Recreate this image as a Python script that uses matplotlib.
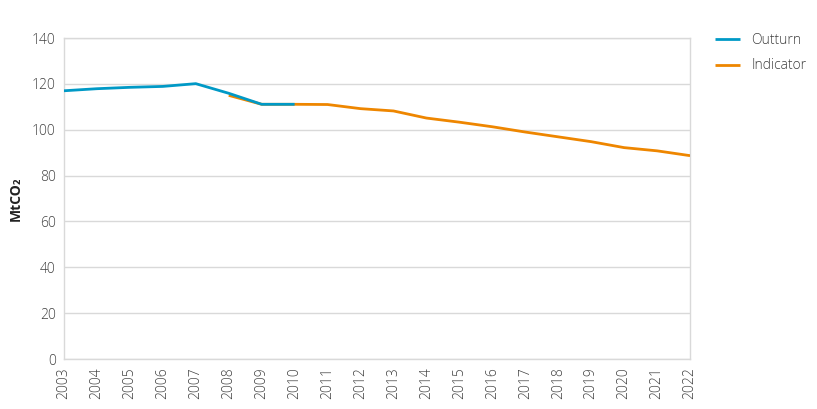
import matplotlib
matplotlib.use('Agg')
import matplotlib.pyplot as plt

# data
outturn_years = [2003, 2004, 2005, 2006, 2007, 2008, 2009, 2010]
outturn = [117.0, 117.9, 118.5, 118.9, 120.1, 115.9, 111.1, 111.1]

indicator_years = [2008, 2009, 2010, 2011, 2012, 2013, 2014, 2015,
                   2016, 2017, 2018, 2019, 2020, 2021, 2022]
indicator = [115.0, 111.1, 111.1, 111.0, 109.2, 108.2, 105.1, 103.3,
             101.3, 99.0, 96.9, 94.8, 92.2, 90.8, 88.7]

years = list(range(2003, 2023))

plt.rcParams['font.family'] = ['Open Sans', 'DejaVu Sans']
text_col = '#404040'
grid_col = '#d9d9d9'

fig = plt.figure(figsize=(8.17, 4.09), dpi=100)
ax = fig.add_axes([0.0783, 0.1222, 0.7663, 0.7848])

l_ind, = ax.plot(indicator_years, indicator, color='#ee8600', lw=2.0,
                 solid_capstyle='butt', zorder=3)
l_out, = ax.plot(outturn_years, outturn, color='#0099c6', lw=2.0,
                 solid_capstyle='butt', zorder=4)

ax.set_xlim(2003, 2022)
ax.set_ylim(0, 140)
ax.set_yticks(range(0, 141, 20))
ax.set_xticks(years)
ax.set_xticklabels([str(y) for y in years], rotation=90)
ax.tick_params(length=0, labelsize=10, colors=text_col, pad=6)
for lab in ax.get_xticklabels() + ax.get_yticklabels():
    lab.set_fontweight('light')
ax.grid(axis='y', color=grid_col, lw=1)
ax.set_axisbelow(True)
for s in ax.spines.values():
    s.set_color(grid_col)
    s.set_linewidth(1)

ax.set_ylabel('MtCO₂', fontsize=10, fontweight='bold', color='#222222')
ax.yaxis.set_label_coords(-0.066, 0.5)

leg = fig.legend([l_out, l_ind], ['Outturn', 'Indicator'],
                 loc='upper left', bbox_to_anchor=(0.86, 0.95),
                 frameon=False, fontsize=10, handlelength=1.8,
                 labelspacing=0.75, handletextpad=0.8)
for t in leg.get_texts():
    t.set_color(text_col)
    t.set_fontweight('light')

fig.savefig('out.png', dpi=100)
